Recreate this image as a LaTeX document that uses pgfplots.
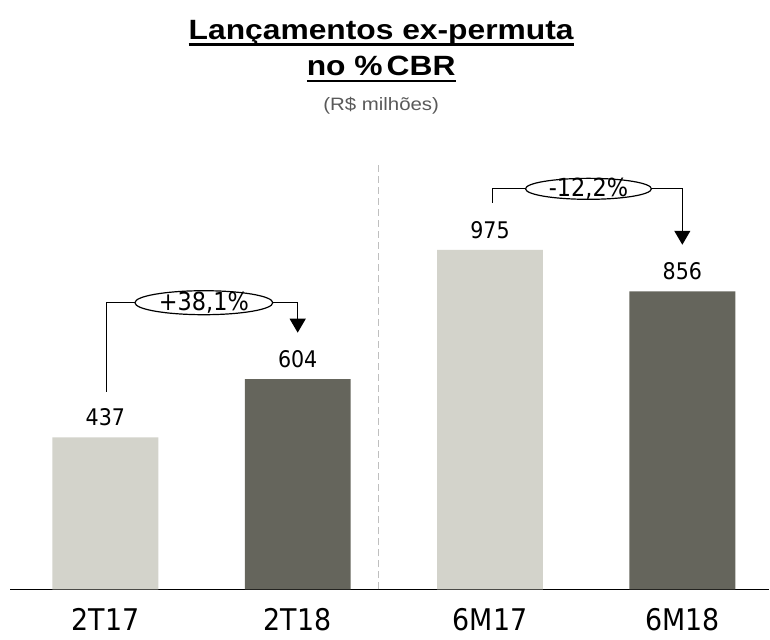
\documentclass[border=0pt]{standalone}
\usepackage{pgfplots}
\pgfplotsset{compat=1.18}
\usepackage{fontspec}
\usetikzlibrary{arrows.meta}
\setmainfont{DejaVu Sans}[FakeStretch=0.9]
\newfontfamily\ttl{Liberation Sans}[FakeStretch=1.14]
\definecolor{lightbar}{HTML}{D3D3CB}
\definecolor{darkbar}{HTML}{65655C}
\definecolor{subgray}{HTML}{595959}
\definecolor{sepgray}{HTML}{BFBFBF}
\newcommand\ulin[1]{\setbox0\hbox{#1}\rlap{\rule[-6.5bp]{\wd0}{2.8bp}}\box0}
\begin{document}
\begin{tikzpicture}
\begin{axis}[
  x=192.5bp, y=0.3485bp,
  xmin=-0.496, xmax=3.452, ymin=0, ymax=1693,
  axis x line=bottom, axis y line=none,
  x axis line style={-, line width=1.5bp, black},
  xtick={0,1,2,3}, xticklabels={2T17,2T18,6M17,6M18},
  major tick length=0pt,
  xticklabel style={font=\fontsize{30}{30}\selectfont, anchor=north, inner sep=0pt, yshift=-19bp},
  ytick=\empty,
  clip=false,
  /pgf/number format/assume math mode=true,
  nodes near coords style={font=\fontsize{23}{23}\selectfont, anchor=south, inner sep=0pt, yshift=11bp},
]
\addplot[ybar, bar width=106bp, bar shift=0pt, fill=lightbar, draw=none, nodes near coords] coordinates {(0,437) (2,975)};
\addplot[ybar, bar width=106bp, bar shift=0pt, fill=darkbar, draw=none, nodes near coords] coordinates {(1,604) (3,856)};

\draw[color=sepgray, line width=1bp, dash pattern=on 7bp off 4bp] (axis cs:1.421,0) -- (axis cs:1.421,1219.5);

% left annotation
\draw[line width=1.3bp] (axis cs:0.005,568) -- (axis cs:0.005,823.5) -- (axis cs:0.512,823.5);
\draw[line width=1.3bp, -{Triangle[width=16bp,length=14bp]}] (axis cs:0.512,823.5) -- (axis cs:1.0,823.5) -- (axis cs:1.0,737.4);
\draw[line width=1.2bp, fill=white] (axis cs:0.512,823.5) ellipse [x radius=69bp, y radius=12bp];
\node[font=\fontsize{25}{25}\selectfont, inner sep=0pt] at (axis cs:0.512,823.5) {+38,1\%};

% right annotation
\draw[line width=1.3bp] (axis cs:2.013,1110.5) -- (axis cs:2.013,1150.6) -- (axis cs:2.512,1150.6);
\draw[line width=1.3bp, -{Triangle[width=16bp,length=14bp]}] (axis cs:2.512,1150.6) -- (axis cs:3.0,1150.6) -- (axis cs:3.0,990);
\draw[line width=1.2bp, fill=white] (axis cs:2.512,1150.6) ellipse [x radius=63bp, y radius=10.5bp];
\node[font=\fontsize{25}{25}\selectfont, inner sep=0pt] at (axis cs:2.512,1150.6) {-12,2\%};

% titles
\node[anchor=base, inner sep=0pt, font=\ttl\bfseries\fontsize{28}{28}\selectfont] at (axis cs:1.434,1579.6) {\ulin{Lançamentos ex-permuta}};
\node[anchor=base, inner sep=0pt, font=\ttl\bfseries\fontsize{28}{28}\selectfont] at (axis cs:1.434,1474.9) {\ulin{no \%\hspace{4bp}CBR}};
\node[anchor=base, inner sep=0pt, text=subgray, font=\ttl\fontsize{18}{18}\selectfont] at (axis cs:1.434,1374.5) {(R\$ milhões)};

\path (axis cs:-0.548,-143) rectangle (axis cs:3.452,1693);
\end{axis}
\end{tikzpicture}
\end{document}
